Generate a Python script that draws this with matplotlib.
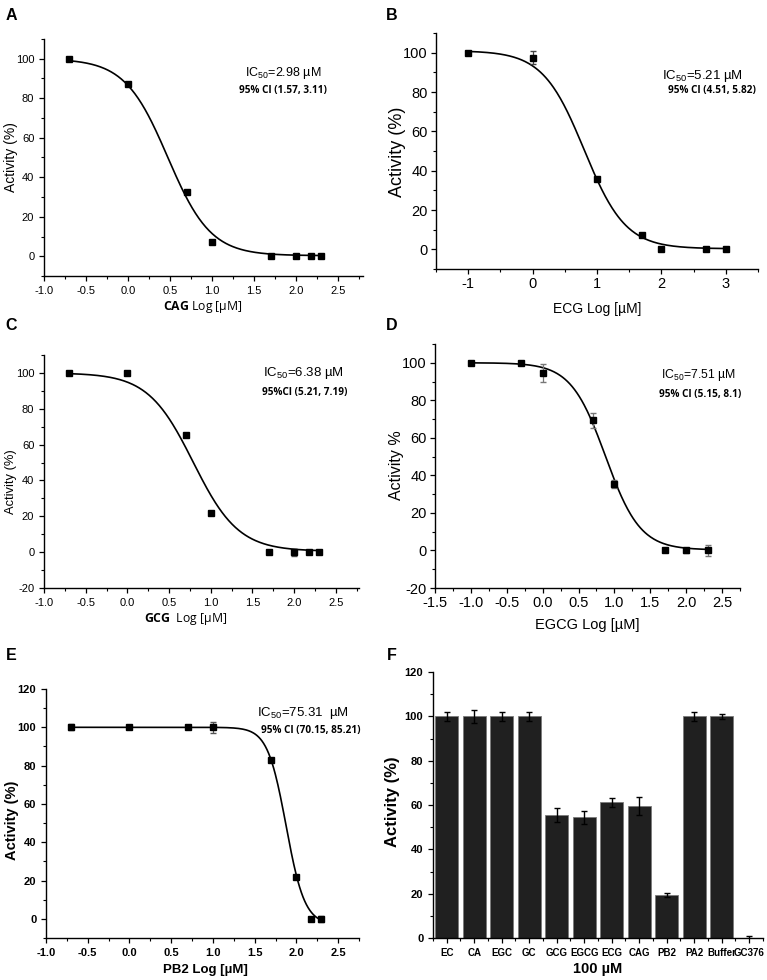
import numpy as np
import matplotlib
matplotlib.use('Agg')
import matplotlib.pyplot as plt
from matplotlib.ticker import MultipleLocator, FormatStrFormatter

plt.rcParams['font.family'] = 'Liberation Sans'
plt.rcParams['axes.unicode_minus'] = False
plt.rcParams['mathtext.fontset'] = 'custom'
plt.rcParams['mathtext.rm'] = 'Liberation Sans'
plt.rcParams['mathtext.it'] = 'Liberation Sans:italic'
plt.rcParams['mathtext.bf'] = 'Open Sans:bold'

W, H = 767, 980

# A - CAG
cag_x = [-0.7, 0.0, 0.7, 1.0, 1.7, 2.0, 2.18, 2.3]
cag_y = [100, 87, 32.5, 7, 0, 0, 0, 0]
cag_fit = (100, 0.3, 0.474, 1.7)   # top, bottom, logIC50, hill

# B - ECG
ecg_x = [-1.0, 0.0, 1.0, 1.7, 2.0, 2.7, 3.0]
ecg_y = [100, 97.5, 36, 7.5, 0, 0, 0]
ecg_err = [0, 3.5, 0, 0, 0, 0, 0]
ecg_fit = (101, 0.3, 0.8, 1.35)

# C - GCG
gcg_x = [-0.7, 0.0, 0.7, 1.0, 1.7, 2.0, 2.18, 2.3]
gcg_y = [100, 100, 65.5, 22, 0, 0, 0, 0]
gcg_err = [0, 0, 0, 0, 0, 2, 0, 0]
gcg_fit = (100, 0.5, 0.79, 1.6)

# D - EGCG
egcg_x = [-1.0, -0.3, 0.0, 0.7, 1.0, 1.7, 2.0, 2.3]
egcg_y = [100, 100, 94.5, 69.5, 35.5, 0, 0, 0]
egcg_err = [0, 1, 5, 4, 2, 0, 1.5, 3]
egcg_fit = (100, 0.3, 0.876, 1.8)

# E - PB2
pb2_x = [-0.7, 0.0, 0.7, 1.0, 1.7, 2.0, 2.18, 2.3]
pb2_y = [100, 100, 100, 100, 83, 22, 0, 0]
pb2_err = [1.5, 0.5, 0.5, 3, 0, 0, 1, 1.5]
pb2_fit = (100, -3, 1.877, 3.9)

# F - single dose 100 uM
f_labels = ['EC', 'CA', 'EGC', 'GC', 'GCG', 'EGCG', 'ECG', 'CAG', 'PB2', 'PA2', 'Buffer', 'GC376']
f_vals = [100, 100, 100, 100, 55.5, 54.5, 61.2, 59.7, 19.5, 100, 100, 0]
f_err = [2, 3, 2, 2, 3, 3, 2, 4, 1, 2, 1, 1]


def px_rect(l, t, r, b):
    return [l / W, 1 - b / H, (r - l) / W, (b - t) / H]


def ftext(x, y, s, **kw):
    fig.text(x / W, 1 - y / H, s, ha='center', va='center', **kw)


def hill(x, p):
    top, bot, logic, h = p
    return bot + (top - bot) / (1 + 10 ** ((np.asarray(x) - logic) * h))


def style(ax, xmaj, xmin, ymaj, ymin, fs, pad=3.5):
    for s in ['top', 'right']:
        ax.spines[s].set_visible(False)
    for s in ['left', 'bottom']:
        ax.spines[s].set_linewidth(1.0)
    ax.xaxis.set_major_locator(MultipleLocator(xmaj))
    ax.xaxis.set_minor_locator(MultipleLocator(xmin))
    ax.yaxis.set_major_locator(MultipleLocator(ymaj))
    ax.yaxis.set_minor_locator(MultipleLocator(ymin))
    ax.tick_params(which='major', direction='out', length=3.5, width=0.9, labelsize=fs, pad=pad)
    ax.tick_params(which='minor', direction='out', length=2, width=0.8)


def curve(ax, xs, ys, fit, err=None, ecol='black'):
    xx = np.linspace(min(xs), max(xs), 300)
    ax.plot(xx, hill(xx, fit), color='black', lw=1.2, zorder=2)
    if err is not None:
        ax.errorbar(xs, ys, yerr=err, fmt='none', ecolor=ecol, elinewidth=0.9, capsize=2.2, zorder=3)
    ax.plot(xs, ys, 's', color='black', ms=4, zorder=4)


CI = dict(fontsize=7.2, family='Open Sans', fontweight='bold')

fig = plt.figure(figsize=(W / 100, H / 100), dpi=100)

# A
ax = fig.add_axes(px_rect(44, 39, 363, 276))
curve(ax, cag_x, cag_y, cag_fit)
ax.set_xlim(-1.0, 2.8)
ax.set_ylim(-10, 110)
style(ax, 0.5, 0.25, 20, 10, 8)
ax.xaxis.set_major_formatter(FormatStrFormatter('%.1f'))
ftext(11, 157, 'Activity (%)', rotation=90, fontsize=10)
ftext(203, 307, r'$\bf{CAG}$ Log [µM]', fontsize=8.8, family='Open Sans')
ftext(283, 73, r'IC$_{50}$=2.98 µM', fontsize=9)
ftext(283, 91, '95% CI (1.57, 3.11)', **CI)

# B
ax = fig.add_axes(px_rect(436, 33, 758, 269))
curve(ax, ecg_x, ecg_y, ecg_fit, ecg_err, ecol='#444444')
ax.set_xlim(-1.5, 3.5)
ax.set_ylim(-10, 110)
style(ax, 1, 0.5, 20, 10, 10.5, pad=2.5)
ftext(397, 152, 'Activity (%)', rotation=90, fontsize=13)
ftext(597, 309, 'ECG Log [µM]', fontsize=10)
ftext(702, 76, r'IC$_{50}$=5.21 µM', fontsize=9.5)
ftext(712, 91, '95% CI (4.51, 5.82)', **CI)

# C
ax = fig.add_axes(px_rect(44, 355, 359, 588))
curve(ax, gcg_x, gcg_y, gcg_fit, gcg_err, ecol='#555555')
ax.set_xlim(-1.0, 2.78)
ax.set_ylim(-20, 110)
style(ax, 0.5, 0.25, 20, 10, 8)
ax.xaxis.set_major_formatter(FormatStrFormatter('%.1f'))
ftext(11, 482, 'Activity (%)', rotation=90, fontsize=9.3)
ftext(186, 619, r'$\bf{GCG}$  Log [µM]', fontsize=8.8, family='Open Sans')
ftext(303, 373, r'IC$_{50}$=6.38 µM', fontsize=9.5)
ftext(305, 392, '95%CI (5.21, 7.19)', **CI)

# D
ax = fig.add_axes(px_rect(435, 344, 740, 588))
curve(ax, egcg_x, egcg_y, egcg_fit, egcg_err, ecol='#777777')
ax.set_xlim(-1.5, 2.75)
ax.set_ylim(-20, 110)
style(ax, 0.5, 0.25, 20, 10, 10.5, pad=2.5)
ax.xaxis.set_major_formatter(FormatStrFormatter('%.1f'))
ftext(397, 465, 'Activity %', rotation=90, fontsize=11.5)
ftext(587, 625, 'EGCG Log [µM]', fontsize=10.5)
ftext(698, 375, r'IC$_{50}$=7.51 µM', fontsize=8.8)
ftext(700, 394, '95% CI (5.15, 8.1)', **CI)

# E
ax = fig.add_axes(px_rect(46, 689, 359, 938))
curve(ax, pb2_x, pb2_y, pb2_fit, pb2_err, ecol='#555555')
ax.set_xlim(-1.0, 2.75)
ax.set_ylim(-10, 120)
style(ax, 0.5, 0.25, 20, 10, 8)
ax.xaxis.set_major_formatter(FormatStrFormatter('%.1f'))
for lab in ax.get_xticklabels() + ax.get_yticklabels():
    lab.set_fontweight('bold')
ftext(12, 820, 'Activity (%)', rotation=90, fontsize=10.5, fontweight='bold')
ftext(205, 970, 'PB2 Log [µM]', fontsize=9.5, fontweight='bold')
ftext(303, 713, r'IC$_{50}$=75.31  µM', fontsize=9.5)
ftext(311, 730, '95% CI (70.15, 85.21)', **CI)

# F
ax = fig.add_axes(px_rect(433, 672, 763, 938))
pos = np.arange(len(f_labels))
ax.bar(pos, f_vals, width=0.82, color='#202020', edgecolor='#7a7a7a', linewidth=0.6, zorder=2)
ax.errorbar(pos, f_vals, yerr=f_err, fmt='none', ecolor='black', elinewidth=1.0, capsize=2.5, zorder=3)
ax.set_xlim(-0.5, 11.5)
ax.set_ylim(0, 120)
style(ax, 1, 0.5, 20, 10, 8)
ax.set_xticks(pos)
ax.set_xticklabels(f_labels, fontsize=7, fontweight='bold')
for lab in ax.get_yticklabels():
    lab.set_fontweight('bold')
ftext(393, 802, 'Activity (%)', rotation=90, fontsize=12, fontweight='bold')
ftext(598, 969, '100 µM', fontsize=10.5, fontweight='bold')

# panel letters
for lab, x, y in [('A', 11, 16), ('B', 392, 16), ('C', 11, 325), ('D', 392, 325), ('E', 11, 655), ('F', 392, 655)]:
    ftext(x, y, lab, fontsize=11.5, fontweight='bold')

fig.savefig('out.png', dpi=100)
